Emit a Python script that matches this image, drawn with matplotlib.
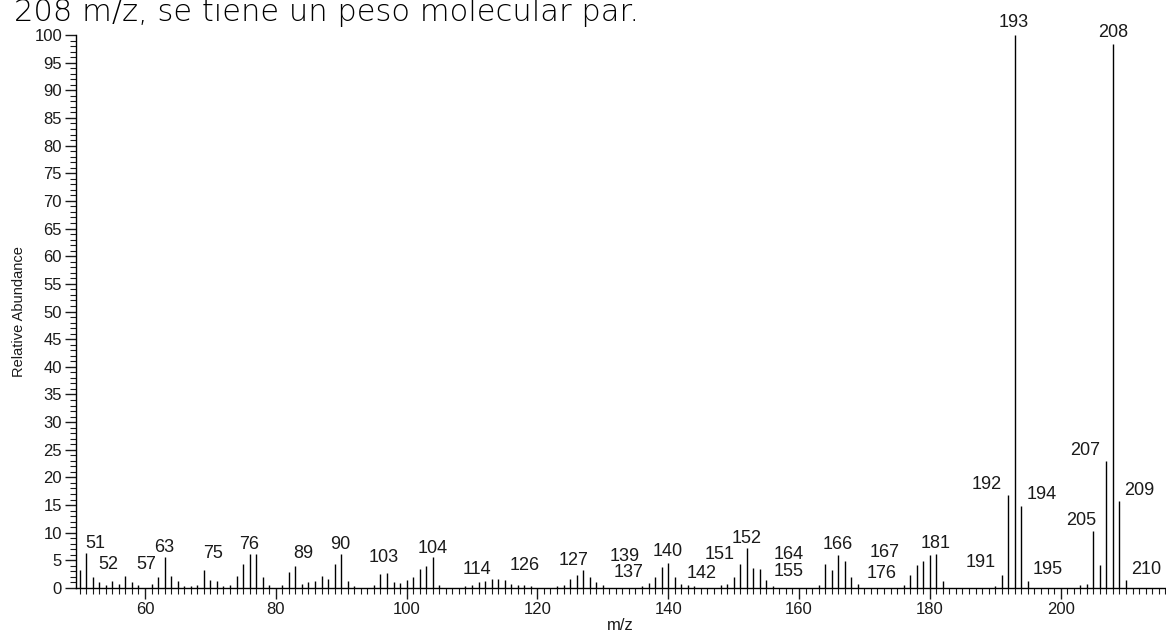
import matplotlib.pyplot as plt
from matplotlib.ticker import MultipleLocator

# mass spectrum: m/z and relative abundance (%)
mz = [50, 51, 52, 53, 54, 55, 56, 57, 58, 59, 61, 62, 63, 64, 65, 66, 67, 68,
      69, 70, 71, 72, 73, 74, 75, 76, 77, 78, 79, 81, 82, 83, 84, 85, 86, 87,
      88, 89, 90, 91, 92, 95, 96, 97, 98, 99, 100, 101, 102, 103, 104, 105,
      109, 110, 111, 112, 113, 114, 115, 116, 117, 118, 119, 123, 124, 125,
      126, 127, 128, 129, 130, 136, 137, 138, 139, 140, 141, 142, 143, 144,
      148, 149, 150, 151, 152, 153, 154, 155, 156, 163, 164, 165, 166, 167,
      168, 169, 176, 177, 178, 179, 180, 181, 182, 190, 191, 192, 193, 194,
      195, 203, 204, 205, 206, 207, 208, 209, 210]
abundance = [3.3, 6.4, 2.0, 1.0, 0.6, 1.2, 0.7, 2.2, 1.0, 0.5, 0.7, 1.9, 5.6,
             2.2, 1.2, 0.4, 0.4, 0.5, 3.3, 1.5, 1.2, 0.4, 0.6, 2.2, 4.4, 6.2,
             6.1, 2.0, 0.6, 0.5, 2.9, 3.9, 0.7, 1.1, 1.2, 2.1, 1.7, 4.4, 6.2,
             1.3, 0.4, 0.5, 2.6, 2.8, 1.1, 0.9, 1.4, 1.9, 3.4, 3.9, 5.6, 0.5,
             0.4, 0.5, 1.1, 1.2, 1.7, 1.7, 1.4, 0.8, 0.6, 0.5, 0.4, 0.4, 0.5,
             1.6, 2.3, 3.3, 1.9, 1.1, 0.6, 0.4, 0.9, 1.9, 3.8, 4.5, 1.9, 0.8,
             0.5, 0.4, 0.5, 0.8, 1.9, 4.3, 7.3, 3.6, 3.5, 1.4, 0.4, 0.5, 4.3,
             3.3, 6.0, 4.8, 1.9, 0.7, 0.6, 2.3, 4.1, 4.8, 6.0, 6.2, 1.2, 0.4,
             2.3, 16.8, 100.0, 14.9, 1.3, 0.6, 0.8, 10.3, 4.1, 23.0, 98.3,
             15.7, 1.4]

# annotated peaks and where their labels sit (x, y of label centre)
labeled = [51, 52, 57, 63, 75, 76, 89, 90, 103, 104, 114, 126, 127, 137, 139,
           140, 142, 151, 152, 155, 164, 166, 167, 176, 181, 191, 192, 193,
           194, 195, 205, 207, 208, 209, 210]
label_xy = {
    51: (52.4, 8.1), 52: (54.4, 4.2), 57: (60.2, 4.2), 63: (62.9, 7.4),
    75: (70.4, 6.3), 76: (75.9, 7.9), 89: (84.2, 6.2), 90: (89.8, 7.9),
    103: (96.5, 5.6), 104: (104.0, 7.1), 114: (110.7, 3.4),
    126: (118.1, 4.0), 127: (125.5, 4.9), 137: (133.9, 2.8),
    139: (133.4, 5.7), 140: (139.9, 6.6), 142: (145.1, 2.7),
    151: (147.8, 6.0), 152: (152.0, 9.0), 155: (158.4, 2.9),
    164: (158.4, 6.0), 166: (165.9, 7.9), 167: (173.1, 6.4),
    176: (172.6, 2.6), 181: (180.9, 8.1), 191: (187.8, 4.6),
    192: (188.7, 18.7), 193: (192.9, 102.2), 194: (197.1, 16.9),
    195: (198.1, 3.3), 205: (203.2, 12.2), 207: (203.7, 24.8),
    208: (208.0, 100.5), 209: (212.0, 17.6), 210: (213.1, 3.4),
}

W, H = 1166, 635
fig = plt.figure(figsize=(W / 100, H / 100), dpi=100)
ax = fig.add_axes([76 / W, (H - 588) / H, 1 - 76 / W, (588 - 35) / H])

ax.vlines(mz, 0, abundance, colors="black", lw=1.0)

ink = "#1a1a1a"
for m in labeled:
    x, y = label_xy[m]
    ax.text(x, y, str(m), ha="center", va="center", fontsize=13,
            family="Liberation Sans", color=ink, clip_on=False)

ax.set_xlim(49.45, 49.45 + 1090 / 6.54)
ax.set_ylim(0, 100)
for side in ("top", "right"):
    ax.spines[side].set_visible(False)
ax.spines["left"].set_linewidth(1.0)
ax.spines["bottom"].set_linewidth(1.0)

ax.xaxis.set_major_locator(MultipleLocator(20))
ax.xaxis.set_minor_locator(MultipleLocator(1))
ax.yaxis.set_major_locator(MultipleLocator(5))
ax.yaxis.set_minor_locator(MultipleLocator(1))
ax.set_xticks(range(60, 201, 20))
ax.tick_params(which="major", direction="out", length=8, width=1,
               labelsize=12, colors=ink, pad=2)
ax.tick_params(which="minor", direction="out", length=4, width=0.8,
               colors=ink)
for lab in ax.get_xticklabels() + ax.get_yticklabels():
    lab.set_family("Liberation Sans")

# x label placed in figure pixels so it stays inside the bottom edge
fig.text(620 / W, 1 - 626 / H, "m/z", fontsize=12, family="Liberation Sans",
         color=ink, ha="center", va="center")
ax.set_ylabel("Relative Abundance", fontsize=10.5, family="Liberation Sans",
              color=ink, labelpad=6)

# tail of the sentence above the spectrum
fig.text(14 / W, 1 - 21 / H, "208 m/z, se tiene un peso molecular par.",
         fontsize=22, family="DejaVu Sans", fontweight="light",
         color="black", va="baseline")

fig.savefig("out.png", dpi=100)
